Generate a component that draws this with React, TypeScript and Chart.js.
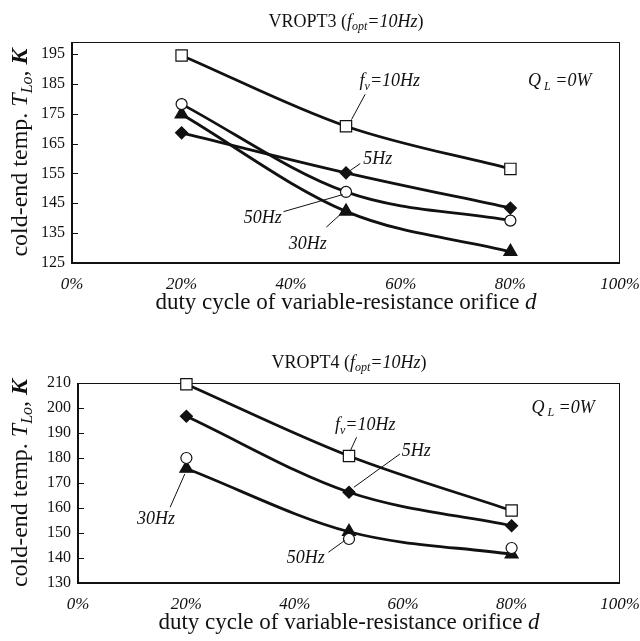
import React, { useEffect, useRef } from "react";
import { Chart, registerables } from "chart.js";

Chart.register(...registerables);

const FONT = "'Liberation Serif', 'Times New Roman', serif";

// shared x data (duty cycle, %)
const DUTY = [20, 50, 80];
const X_TICKS = [0, 20, 40, 60, 80, 100];

// VROPT3 cold-end temperature (K)
const V3_F10 = [194.5, 170.8, 156.5];
const V3_F5 = [168.6, 155.2, 143.4];
const V3_F50 = [178.2, 148.8, 139.2];
const V3_F30 = [174.8, 142.3, 128.8];
const V3_Y_TICKS = [125, 135, 145, 155, 165, 175, 185, 195];

// VROPT4 cold-end temperature (K)
const V4_F10 = [209.5, 180.8, 159.0];
const V4_F5 = [196.7, 166.3, 152.9];
const V4_F50 = [180.0, 147.6, 144.0];
const V4_F30 = [175.8, 150.5, 141.5];
const V4_Y_TICKS = [130, 140, 150, 160, 170, 180, 190, 200, 210];

type Seg = { t: string; it?: boolean; sub?: boolean; b?: boolean };

function segFont(s: Seg, size: number) {
  const sz = s.sub ? Math.round(size * 0.68) : size;
  return `${s.it ? "italic " : ""}${s.b ? "bold " : ""}${sz}px ${FONT}`;
}

function drawRich(ctx: CanvasRenderingContext2D, segs: Seg[], x: number, y: number, size: number) {
  let total = 0;
  for (const s of segs) {
    ctx.font = segFont(s, size);
    total += ctx.measureText(s.t).width;
  }
  let cx = x - total / 2;
  ctx.textAlign = "left";
  ctx.textBaseline = "middle";
  for (const s of segs) {
    ctx.font = segFont(s, size);
    ctx.fillText(s.t, cx, y + (s.sub ? size * 0.28 : 0));
    cx += ctx.measureText(s.t).width;
  }
}

const FV10: Seg[] = [{ t: "f", it: true }, { t: "v", it: true, sub: true }, { t: "=10Hz", it: true }];
const QL0: Seg[] = [{ t: "Q", it: true }, { t: " L", it: true, sub: true }, { t: " =0W", it: true }];
const HZ = (n: string): Seg[] => [{ t: n, it: true }];

type Ann = { segs: Seg[]; x: number; y: number; line?: [number, number, number, number] };

const ANN3: Ann[] = [
  { segs: FV10, x: 58, y: 185.8, line: [53.5, 181.5, 51, 173] },
  { segs: QL0, x: 89, y: 185.8 },
  { segs: HZ("5Hz"), x: 55.8, y: 159.8, line: [52.6, 158.3, 50.8, 156] },
  { segs: HZ("50Hz"), x: 34.8, y: 140, line: [38.6, 142.2, 49.4, 147.9] },
  { segs: HZ("30Hz"), x: 43, y: 131.3, line: [46.4, 137, 49.3, 141.8] },
];

const ANN4: Ann[] = [
  { segs: FV10, x: 53, y: 193, line: [51.4, 188.3, 50.2, 182.7] },
  { segs: QL0, x: 89.5, y: 200 },
  { segs: HZ("5Hz"), x: 62.4, y: 182.5, line: [59.4, 181.6, 50.9, 168.3] },
  { segs: HZ("30Hz"), x: 14.4, y: 155.6, line: [17, 160.3, 19.7, 173.6] },
  { segs: HZ("50Hz"), x: 42, y: 140, line: [46.2, 142.3, 49.2, 147] },
];

function ds(label: string, vals: number[], style: string, fill: string, radius: number, showLine = true) {
  return {
    label,
    data: DUTY.map((x, i) => ({ x, y: vals[i] })),
    borderColor: "#111",
    borderWidth: 2.8,
    pointStyle: style,
    pointRadius: radius,
    pointBackgroundColor: fill,
    pointBorderColor: "#111",
    pointBorderWidth: 1.2,
    tension: 0.4,
    cubicInterpolationMode: "monotone",
    showLine,
    clip: false,
  };
}

function makeChart(canvas: HTMLCanvasElement, cfg: any) {
  const decor = {
    id: "decor",
    beforeDatasetsDraw(chart: any) {
      const { ctx, chartArea: a, scales } = chart;
      ctx.save();
      ctx.strokeStyle = "#111";
      ctx.lineWidth = 1;
      ctx.beginPath();
      ctx.moveTo(a.left, a.top + 0.5);
      ctx.lineTo(a.right, a.top + 0.5);
      ctx.moveTo(a.right - 0.5, a.top);
      ctx.lineTo(a.right - 0.5, a.bottom);
      ctx.stroke();
      ctx.lineWidth = 2;
      ctx.beginPath();
      ctx.moveTo(a.left, a.top);
      ctx.lineTo(a.left, a.bottom);
      ctx.lineTo(a.right, a.bottom);
      ctx.stroke();
      ctx.lineWidth = 1;
      ctx.beginPath();
      for (const v of cfg.yTicks) {
        const py = Math.round(scales.y.getPixelForValue(v)) + 0.5;
        ctx.moveTo(a.left, py);
        ctx.lineTo(a.left + 6, py);
      }
      ctx.stroke();
      ctx.restore();
    },
    afterDatasetsDraw(chart: any) {
      const { ctx, chartArea: a, scales } = chart;
      const sx = (v: number) => scales.x.getPixelForValue(v);
      const sy = (v: number) => scales.y.getPixelForValue(v);
      ctx.save();
      ctx.fillStyle = "#111";
      ctx.strokeStyle = "#111";
      ctx.lineWidth = 1;
      for (const n of cfg.ann) {
        drawRich(ctx, n.segs, sx(n.x), sy(n.y), 18);
        if (n.line) {
          ctx.beginPath();
          ctx.moveTo(sx(n.line[0]), sy(n.line[1]));
          ctx.lineTo(sx(n.line[2]), sy(n.line[3]));
          ctx.stroke();
        }
      }
      const cx = (a.left + a.right) / 2;
      drawRich(
        ctx,
        [
          { t: cfg.title + " (" },
          { t: "f", it: true },
          { t: "opt", it: true, sub: true },
          { t: "=10Hz", it: true },
          { t: ")" },
        ],
        cx,
        a.top - 20,
        18
      );
      drawRich(
        ctx,
        [{ t: "duty cycle of variable-resistance orifice " }, { t: "d", it: true }],
        cx,
        a.bottom + 40,
        23
      );
      ctx.translate(21, (a.top + a.bottom) / 2);
      ctx.rotate(-Math.PI / 2);
      drawRich(
        ctx,
        [
          { t: "cold-end temp. " },
          { t: "T", it: true },
          { t: "Lo", it: true, sub: true },
          { t: ", " },
          { t: "K", it: true, b: true },
        ],
        0,
        0,
        24
      );
      ctx.restore();
    },
  };

  return new Chart(canvas, {
    type: "line",
    data: { datasets: cfg.datasets },
    options: {
      responsive: false,
      animation: false,
      events: [],
      layout: { padding: { top: cfg.top, right: 20, left: 0, bottom: 0 } },
      plugins: {
        legend: { display: false },
        tooltip: { enabled: false },
        title: { display: false },
      },
      scales: {
        x: {
          type: "linear",
          min: 0,
          max: 100,
          afterFit: (s: any) => {
            s.height = cfg.height - cfg.top - cfg.plotH;
            s.paddingLeft = 0;
            s.paddingRight = 0;
          },
          afterBuildTicks: (s: any) => {
            s.ticks = X_TICKS.map((v) => ({ value: v }));
          },
          grid: { display: false, drawTicks: false },
          border: { display: false },
          ticks: {
            padding: 11,
            color: "#111",
            maxRotation: 0,
            autoSkip: false,
            font: { family: FONT, size: 17, style: "italic" },
            callback: (v: any) => v + "%",
          },
        },
        y: {
          type: "linear",
          min: cfg.yMin,
          max: cfg.yMax,
          afterFit: (s: any) => {
            s.width = cfg.left;
            s.paddingTop = 0;
            s.paddingBottom = 0;
          },
          afterBuildTicks: (s: any) => {
            s.ticks = cfg.yTicks.map((v: number) => ({ value: v }));
          },
          grid: { display: false, drawTicks: false },
          border: { display: false },
          ticks: {
            padding: 7,
            color: "#111",
            autoSkip: false,
            font: { family: FONT, size: 16 },
          },
        },
      },
    },
    plugins: [decor],
  } as any);
}

function Panel(props: { cfg: any }) {
  const ref = useRef<HTMLCanvasElement>(null);
  useEffect(() => {
    const c = makeChart(ref.current!, props.cfg);
    return () => c.destroy();
  }, []);
  return (
    <canvas
      ref={ref}
      width={640}
      height={props.cfg.height}
      style={{ display: "block", width: 640, height: props.cfg.height }}
    />
  );
}

const CFG3: any = {
  title: "VROPT3",
  datasets: [
    ds("fv=10Hz", V3_F10, "rect", "#fff", 8),
    ds("5Hz", V3_F5, "rectRot", "#111", 6),
    ds("50Hz", V3_F50, "circle", "#fff", 5.5),
    ds("30Hz", V3_F30, "triangle", "#111", 7.5),
  ],
  yMin: 125,
  yMax: 199,
  yTicks: V3_Y_TICKS,
  ann: ANN3,
  top: 42,
  left: 72,
  height: 320,
  plotH: 221,
};

const CFG4: any = {
  title: "VROPT4",
  datasets: [
    ds("fv=10Hz", V4_F10, "rect", "#fff", 8),
    ds("5Hz", V4_F5, "rectRot", "#111", 6),
    ds("50Hz", V4_F50, "circle", "#fff", 5.5, false),
    ds("30Hz", V4_F30, "triangle", "#111", 7.5),
  ],
  yMin: 130,
  yMax: 210,
  yTicks: V4_Y_TICKS,
  ann: ANN4,
  top: 63,
  left: 78,
  height: 321,
  plotH: 200,
};

export default function App() {
  return (
    <div style={{ position: "absolute", left: 0, top: 0, width: 640, height: 641, background: "#fff" }}>
      <Panel cfg={CFG3} />
      <Panel cfg={CFG4} />
    </div>
  );
}
